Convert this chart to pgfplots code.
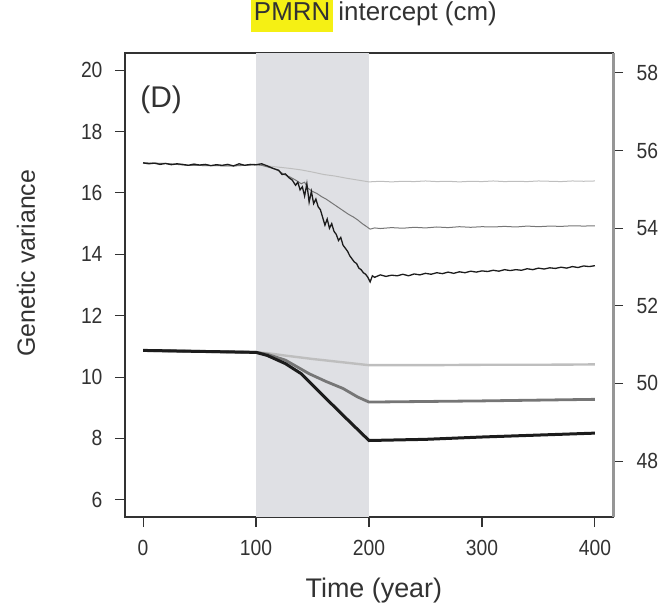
\documentclass[border=0pt]{standalone}
\usepackage{pgfplots}
\pgfplotsset{compat=1.18}
\usepackage{fontspec}
\setmainfont{Liberation Sans}
\newfontfamily\tickfont[FakeStretch=0.88]{Liberation Sans}
\definecolor{shadecol}{RGB}{223,224,228}
\definecolor{lightln}{RGB}{190,190,190}
\definecolor{midln}{RGB}{118,118,118}
\definecolor{darkln}{RGB}{28,28,28}
\definecolor{axcol}{RGB}{50,50,50}
\definecolor{raxcol}{RGB}{150,150,150}
\definecolor{hl}{RGB}{245,240,20}

\pgfplotstableread{
x y
0 16.98
5 16.95
10 16.97
15 16.93
20 16.96
25 16.92
30 16.95
35 16.93
40 16.90
45 16.94
50 16.91
55 16.93
60 16.89
65 16.92
70 16.90
75 16.93
80 16.88
85 16.95
90 16.90
95 16.93
100 16.92
105 16.95
110 16.88
115 16.80
120 16.74
123 16.60
126 16.62
129 16.50
132 16.42
135 16.25
137 16.35
139 16.10
141 16.20
143 15.90
145 16.30
147 15.70
149 16.05
151 15.65
153 15.80
155 15.55
157 15.45
159 15.20
161 14.95
163 15.15
165 14.85
167 15.00
169 14.75
171 14.65
173 14.45
175 14.55
177 14.30
179 14.20
181 14.10
183 13.95
185 13.85
187 13.75
189 13.70
191 13.55
193 13.50
195 13.40
197 13.35
199 13.25
201 13.10
203 13.30
205 13.25
210 13.33
215 13.28
220 13.32
225 13.30
230 13.35
235 13.30
240 13.36
245 13.33
250 13.38
255 13.35
260 13.40
265 13.37
270 13.42
275 13.38
280 13.43
285 13.40
290 13.45
295 13.42
300 13.46
305 13.44
310 13.48
315 13.45
320 13.50
325 13.47
330 13.50
335 13.48
340 13.53
345 13.50
350 13.55
355 13.52
360 13.56
365 13.54
370 13.58
375 13.55
380 13.60
385 13.57
390 13.62
395 13.60
400 13.63
}\noisyblack

\pgfplotstableread{
x y
0 16.98
20 16.96
40 16.90
60 16.89
80 16.88
100 16.92
105 16.90
110 16.85
115 16.80
120 16.72
125 16.60
130 16.52
135 16.42
140 16.30
143 16.35
146 16.15
150 16.05
154 15.98
158 15.88
162 15.80
166 15.70
170 15.60
174 15.50
178 15.40
182 15.30
186 15.22
190 15.12
194 15.00
198 14.90
201 14.82
205 14.86
210 14.84
220 14.87
230 14.85
240 14.88
250 14.86
260 14.89
270 14.87
280 14.90
290 14.88
300 14.90
310 14.89
320 14.91
330 14.89
340 14.92
350 14.90
360 14.92
370 14.91
380 14.93
390 14.92
400 14.93
}\noisymid

\pgfplotstableread{
x y
0 16.98
20 16.96
40 16.90
60 16.89
80 16.88
100 16.92
110 16.88
120 16.84
130 16.80
140 16.75
150 16.68
160 16.60
170 16.55
180 16.48
190 16.42
200 16.36
210 16.38
220 16.36
230 16.38
240 16.37
250 16.39
260 16.37
270 16.38
280 16.36
290 16.38
300 16.37
310 16.39
320 16.37
330 16.38
340 16.37
350 16.39
360 16.38
370 16.37
380 16.39
390 16.38
400 16.39
}\noisylight

\pgfplotstableread{
x y
0 50.85
100 50.80
110 50.78
125 50.72
150 50.63
175 50.55
200 50.47
250 50.47
300 50.48
350 50.48
400 50.49
}\smoothlight

\pgfplotstableread{
x y
0 50.85
100 50.80
110 50.75
126 50.60
147 50.25
162 50.05
177 49.87
190 49.65
200 49.52
300 49.55
400 49.59
}\smoothmid

\pgfplotstableread{
x y
0 50.85
100 50.80
110 50.72
126 50.51
140 50.25
153 49.87
177 49.18
200 48.53
250 48.56
300 48.62
350 48.67
400 48.72
}\smoothblack

\begin{document}
\begin{tikzpicture}
\useasboundingbox (-125bp,-90bp) rectangle (538bp,517bp);
\begin{axis}[
  at={(0,0)}, anchor=south west,
  scale only axis, width=488bp, height=464bp,
  xmin=-16, xmax=416, ymin=5.44, ymax=20.56,
  xtick={0,100,200,300,400}, ytick={6,8,10,12,14,16,18,20},
  xtick pos=bottom, ytick pos=left,
  tick align=outside, major tick length=10bp,
  axis line style={axcol, line width=1.3bp},
  every tick/.style={axcol, line width=1.1bp},
  /pgf/number format/assume math mode=true,
  tick label style={font=\tickfont\fontsize{22}{24}\selectfont, text=axcol},
  yticklabel style={xshift=-9bp},
  xticklabel style={yshift=-10bp},
  xlabel={Time (year)},
  xlabel style={font=\fontsize{27}{30}\selectfont, text=axcol, at={(axis description cs:0.51,-0.158)}, anchor=center},
  ylabel={Genetic variance},
  ylabel style={font=\fontsize{25}{28}\selectfont, text=axcol, at={(axis description cs:-0.203,0.547)}, anchor=center, rotate=0},
  title={\colorbox{hl}{\strut PMRN}\kern0.2em intercept (cm)},
  title style={font=\fontsize{26}{29}\selectfont, text=axcol, at={(axis description cs:0.51,1.07)}, anchor=center, inner sep=0pt},
  clip=true,
]
\fill[shadecol] (axis cs:100,5.44) rectangle (axis cs:200,20.56);
\addplot[lightln, line width=1.0bp] table[x=x,y=y] {\noisylight};
\addplot[midln, line width=1.0bp] table[x=x,y=y] {\noisymid};
\addplot[darkln, line width=1.3bp] table[x=x,y=y] {\noisyblack};
\node[font=\fontsize{30}{33}\selectfont, text=axcol] at (axis description cs:0.074,0.9) {(D)};
\end{axis}
\begin{axis}[
  at={(0,0)}, anchor=south west,
  scale only axis, width=488bp, height=464bp,
  xmin=-16, xmax=416, ymin=46.56, ymax=58.51,
  axis x line=none, axis y line*=right,
  ytick={48,50,52,54,56,58},
  tick align=outside, major tick length=10bp,
  y axis line style={raxcol, line width=3bp, -},
  every tick/.style={axcol, line width=1.1bp},
  /pgf/number format/assume math mode=true,
  tick label style={font=\tickfont\fontsize{22}{24}\selectfont, text=axcol},
  yticklabel style={xshift=10bp},
]
\addplot[lightln, line width=2.4bp] table[x=x,y=y] {\smoothlight};
\addplot[midln, line width=2.8bp] table[x=x,y=y] {\smoothmid};
\addplot[darkln, line width=3.0bp] table[x=x,y=y] {\smoothblack};
\end{axis}
\end{tikzpicture}
\end{document}
